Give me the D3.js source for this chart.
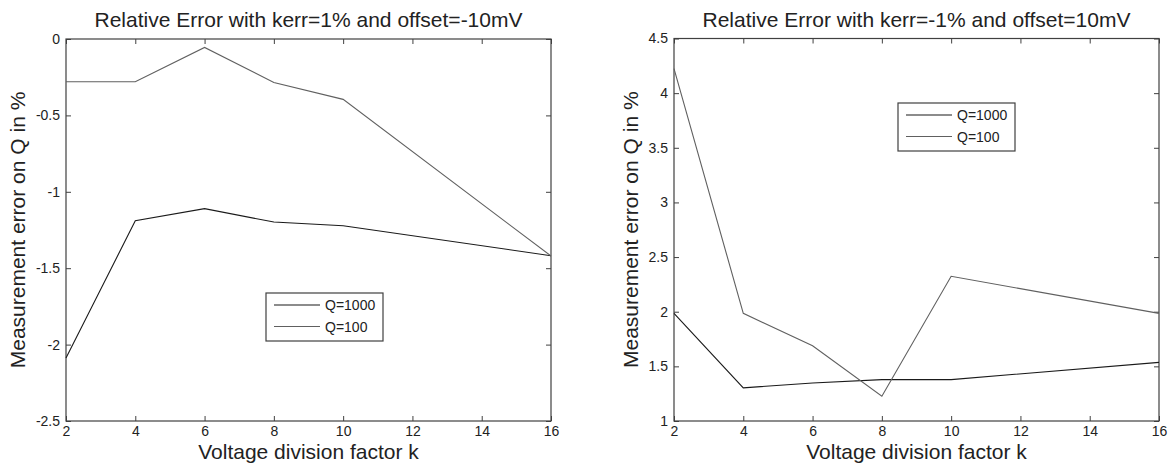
<!DOCTYPE html>
<html>
<head>
<meta charset="utf-8">
<script src="https://cdn.jsdelivr.net/npm/d3@7"></script>
<style>
  body { margin: 0; background: #fff; }
  text { font-family: Arial, "Liberation Sans", sans-serif; }
</style>
</head>
<body>
<svg id="main" width="1170" height="470"></svg>
<script>
// data
const kValues = [2, 4, 6, 8, 10, 16];
const xTicks = [2, 4, 6, 8, 10, 12, 14, 16];
const seriesNames = ["Q=1000", "Q=100"];
const leftQ1000 = [-2.087, -1.19, -1.11, -1.198, -1.222, -1.418];
const leftQ100 = [-0.28, -0.28, -0.055, -0.285, -0.395, -1.42];
const rightQ1000 = [1.985, 1.303, 1.348, 1.379, 1.379, 1.536];
const rightQ100 = [4.225, 1.985, 1.688, 1.227, 2.324, 1.985];
const leftYTicks = [0, -0.5, -1, -1.5, -2, -2.5];
const rightYTicks = [1, 1.5, 2, 2.5, 3, 3.5, 4, 4.5];
const titles = ["Relative Error with kerr=1% and offset=-10mV", "Relative Error with kerr=-1% and offset=10mV"];
const xLabel = "Voltage division factor k";
const yLabel = "Measurement error on Q in %";

const lineColors = ["#1a1a1a", "#606060"];
const axisColor = "#404040";
const textColor = "#222";

const svg = d3.select("#main");

function drawPanel(p) {
    const g = svg.append('g');
    const x = d3.scaleLinear().domain([2, 16]).range([p.left, p.right]);
    const y = d3.scaleLinear().domain(p.yDomain).range([p.bottom, p.top]);

    // ticks pointing inwards on all four sides
    const bottomAx = g.append('g')
        .attr('transform', `translate(0,${p.bottom})`)
        .call(d3.axisBottom(x).tickValues(xTicks).tickSize(-5).tickPadding(5).tickFormat(d => String(d)));
    const topAx = g.append('g')
        .attr('transform', `translate(0,${p.top})`)
        .call(d3.axisTop(x).tickValues(xTicks).tickSize(-5).tickFormat(''));
    const leftAx = g.append('g')
        .attr('transform', `translate(${p.left},0)`)
        .call(d3.axisLeft(y).tickValues(p.yTicks).tickSize(-5).tickPadding(6).tickFormat(d => String(d)));
    const rightAx = g.append('g')
        .attr('transform', `translate(${p.right},0)`)
        .call(d3.axisRight(y).tickValues(p.yTicks).tickSize(-5).tickFormat(''));

    [bottomAx, topAx, leftAx, rightAx].forEach(a => {
        a.select('.domain').remove();
        a.selectAll('line').attr('stroke', axisColor);
        a.selectAll('text')
            .attr('font-size', 14)
            .attr('font-family', 'Arial, "Liberation Sans", sans-serif')
            .attr('fill', textColor);
    });

    g.append('rect')
        .attr('x', p.left)
        .attr('y', p.top)
        .attr('width', p.right - p.left)
        .attr('height', p.bottom - p.top)
        .attr('fill', 'none')
        .attr('stroke', axisColor)
        .attr('stroke-width', 1.2);

    const line = d3.line()
        .x((d, i) => x(kValues[i]))
        .y(d => y(d));

    p.series.forEach((s, i) => {
        g.append('path')
            .datum(s)
            .attr('d', line)
            .attr('fill', 'none')
            .attr('stroke', lineColors[i])
            .attr('stroke-width', 1.1);
    });

    // title + labels
    g.append('text')
        .attr('x', (p.left + p.right) / 2)
        .attr('y', 27)
        .attr('text-anchor', 'middle')
        .attr('font-size', 21)
        .attr('fill', textColor)
        .text(p.title);

    g.append('text')
        .attr('x', (p.left + p.right) / 2)
        .attr('y', 459)
        .attr('text-anchor', 'middle')
        .attr('font-size', 21)
        .attr('fill', textColor)
        .text(xLabel);

    g.append('text')
        .attr('transform', `translate(${p.yLabelX},${(p.top + p.bottom) / 2}) rotate(-90)`)
        .attr('text-anchor', 'middle')
        .attr('font-size', 21)
        .attr('fill', textColor)
        .text(yLabel);

    // legend
    const lg = g.append('g').attr('transform', `translate(${p.legend[0]},${p.legend[1]})`);
    lg.append('rect')
        .attr('width', 117)
        .attr('height', 48)
        .attr('fill', '#fff')
        .attr('stroke', axisColor)
        .attr('stroke-width', 1.2);
    seriesNames.forEach((name, i) => {
        const ly = 12 + i * 21.5;
        lg.append('line')
            .attr('x1', 8).attr('x2', 54)
            .attr('y1', ly).attr('y2', ly)
            .attr('stroke', lineColors[i])
            .attr('stroke-width', 1.1);
        lg.append('text')
            .attr('x', 59)
            .attr('y', ly)
            .attr('dy', '0.36em')
            .attr('font-size', 14)
            .attr('fill', textColor)
            .text(name);
    });
}

drawPanel({
    left: 66, right: 551, top: 39, bottom: 421,
    yDomain: [-2.5, 0], yTicks: leftYTicks,
    series: [leftQ1000, leftQ100],
    title: titles[0], yLabelX: 25, legend: [266, 293]
});

drawPanel({
    left: 674, right: 1159, top: 38.5, bottom: 421,
    yDomain: [1, 4.5], yTicks: rightYTicks,
    series: [rightQ1000, rightQ100],
    title: titles[1], yLabelX: 638, legend: [898, 103]
});
</script>
</body>
</html>
